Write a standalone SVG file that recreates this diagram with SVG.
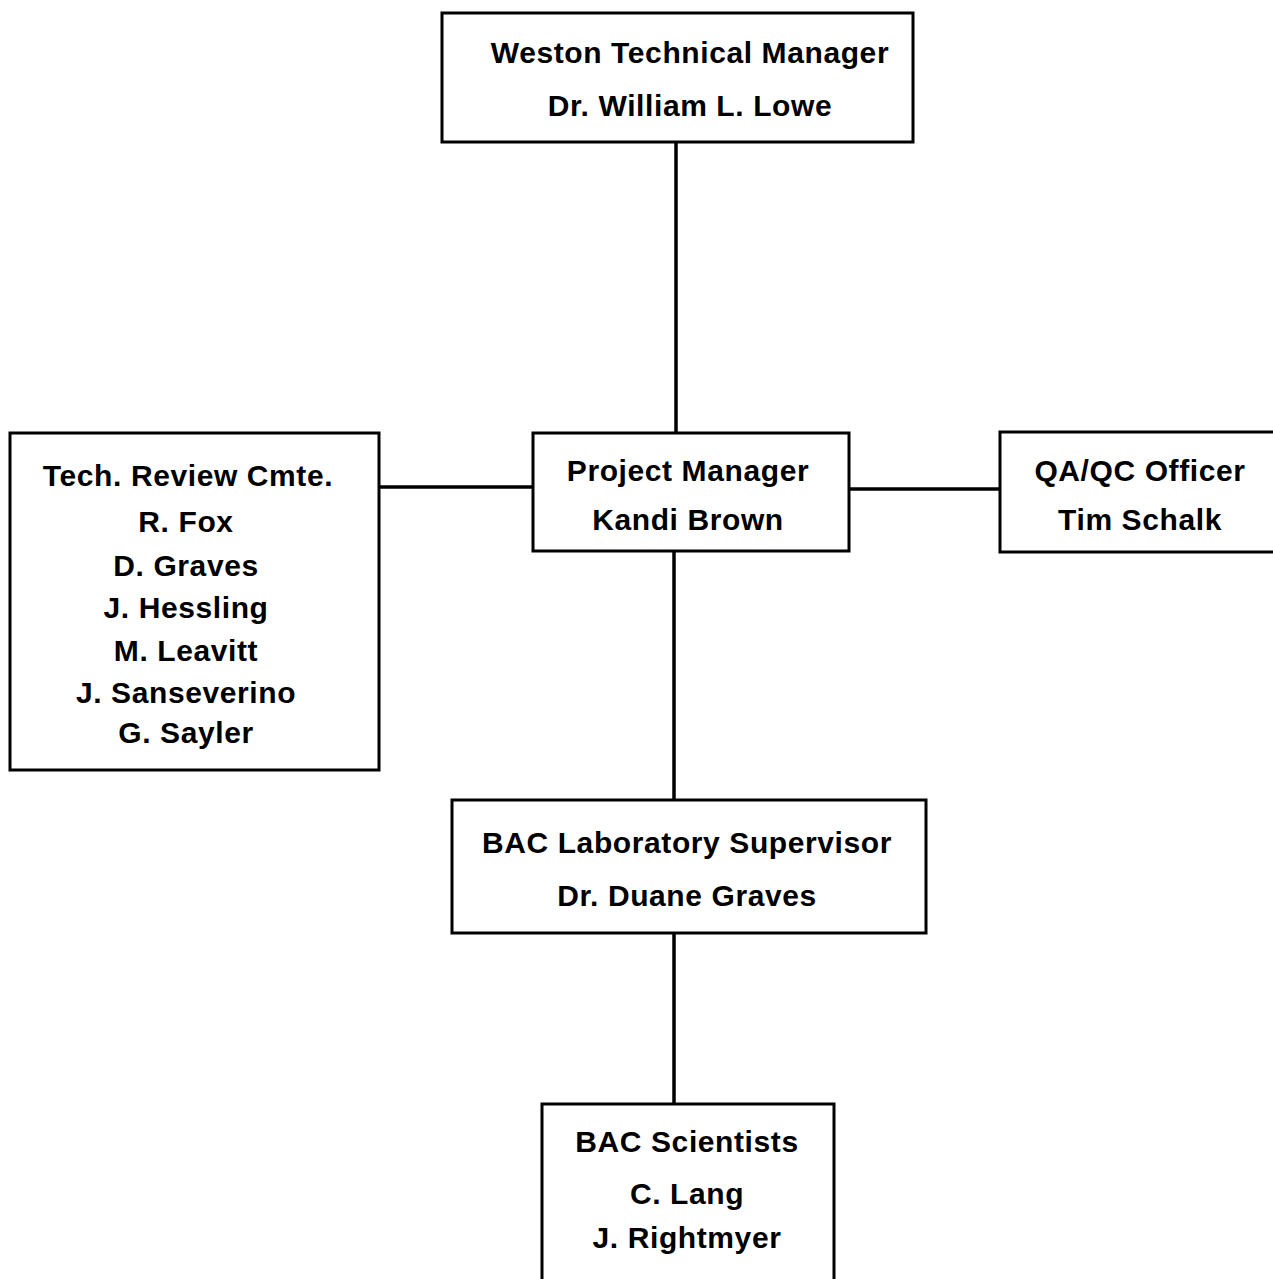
<svg xmlns="http://www.w3.org/2000/svg" width="1273" height="1279" viewBox="0 0 1273 1279">
<style>
.box{fill:#fff;stroke:#000;stroke-width:3}
.ln{stroke:#000;stroke-width:3.5;fill:none}
text{font-family:"Liberation Sans",Arial,sans-serif;font-weight:bold;font-size:30px;letter-spacing:0.6px;fill:#000;text-anchor:middle}
</style>
<rect width="1273" height="1279" fill="#fff"/>
<g id="connectors">
<line class="ln" x1="676" y1="142" x2="676" y2="433"/>
<line class="ln" x1="380" y1="487" x2="533" y2="487"/>
<line class="ln" x1="850" y1="489" x2="1000" y2="489"/>
<line class="ln" x1="674" y1="550" x2="674" y2="800"/>
<line class="ln" x1="674" y1="933" x2="674" y2="1104"/>
</g>
<g id="weston">
<rect class="box" x="442" y="13" width="471" height="129"/>
<text x="690" y="63">Weston Technical Manager</text>
<text x="690" y="116">Dr. William L. Lowe</text>
</g>
<g id="techreview">
<rect class="box" x="10" y="433" width="369" height="337"/>
<text x="188" y="486">Tech. Review Cmte.</text>
<text x="186" y="532">R. Fox</text>
<text x="186" y="576">D. Graves</text>
<text x="186" y="618">J. Hessling</text>
<text x="186" y="661">M. Leavitt</text>
<text x="186" y="703">J. Sanseverino</text>
<text x="186" y="743">G. Sayler</text>
</g>
<g id="pm">
<rect class="box" x="533" y="433" width="316" height="118"/>
<text x="688" y="481">Project Manager</text>
<text x="688" y="530">Kandi Brown</text>
</g>
<g id="qaqc">
<rect class="box" x="1000" y="432" width="285" height="120"/>
<text x="1140" y="481">QA/QC Officer</text>
<text x="1140" y="530">Tim Schalk</text>
</g>
<g id="baclab">
<rect class="box" x="452" y="800" width="474" height="133"/>
<text x="687" y="853">BAC Laboratory Supervisor</text>
<text x="687" y="906">Dr. Duane Graves</text>
</g>
<g id="bacsci">
<rect class="box" x="542" y="1104" width="292" height="190"/>
<text x="687" y="1152">BAC Scientists</text>
<text x="687" y="1204">C. Lang</text>
<text x="687" y="1248">J. Rightmyer</text>
</g>
</svg>
